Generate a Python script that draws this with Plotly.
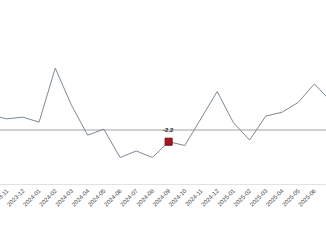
import plotly.graph_objects as go

months = ["2023-10", "2023-11", "2023-12", "2024-01", "2024-02", "2024-03", "2024-04",
          "2024-05", "2024-06", "2024-07", "2024-08", "2024-09", "2024-10", "2024-11",
          "2024-12", "2025-01", "2025-02", "2025-03", "2025-04", "2025-05", "2025-06",
          "2025-07"]
values = [2.7, 2.0, 2.3, 1.4, 11.3, 4.5, -1.0, 0.1, -5.1, -3.9, -5.1, -2.2, -2.9, 2.1,
          7.0, 1.3, -1.9, 2.5, 3.2, 5.0, 8.4, 5.3]
highlight_month = "2024-09"
highlight_label = "-2,2"

hi = months.index(highlight_month)

fig = go.Figure()
fig.add_trace(go.Scatter(
    x=list(range(len(months))), y=values, mode="lines",
    line=dict(color="#7d8893", width=1), hoverinfo="skip", showlegend=False))
fig.add_trace(go.Scatter(
    x=[hi], y=[values[hi]], mode="markers",
    marker=dict(symbol="square", size=7, color="#a8161e",
                line=dict(color="#6e0d12", width=1)),
    showlegend=False))
fig.add_annotation(x=hi, y=values[hi], text="<b>" + highlight_label + "</b>", showarrow=False,
                   yshift=12, font=dict(family="Liberation Sans", size=6, color="#222222"))

fig.update_layout(
    width=326, height=245,
    margin=dict(l=0, r=0, t=0, b=61, autoexpand=False),
    paper_bgcolor="white", plot_bgcolor="white",
    xaxis=dict(range=[0.586, 20.72], tickmode="array",
               tickvals=list(range(len(months))), ticktext=months,
               tickangle=-45, tickfont=dict(family="Liberation Sans", size=6, color="#444444"),
               ticklabeloverflow="allow", automargin=False,
               showgrid=False, zeroline=False, showline=True, linecolor="#e2e2e2",
               linewidth=1, ticks="", ticklen=0),
    yaxis=dict(range=[-9.96, 23.8], showticklabels=False, showgrid=False,
               zeroline=True, zerolinecolor="#d0d0d0", zerolinewidth=2,
               showline=False, ticks="", automargin=False),
)
fig.write_html("out.html")
